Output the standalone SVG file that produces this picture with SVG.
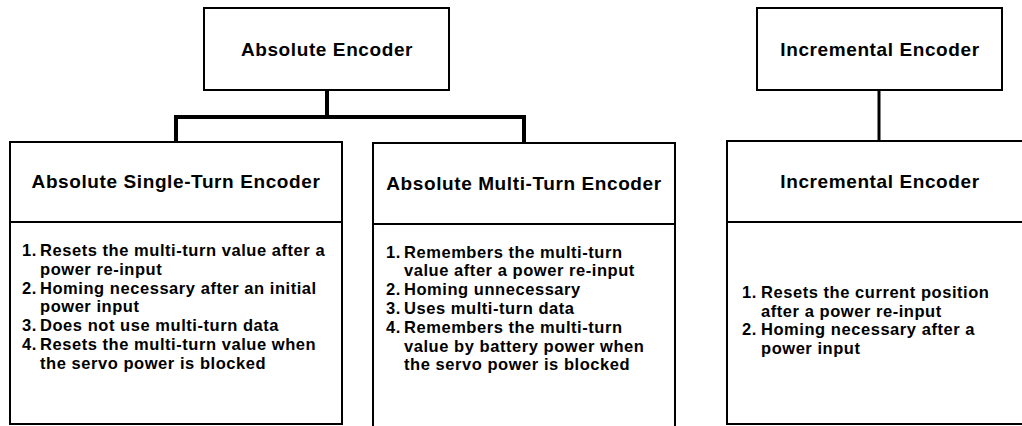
<svg xmlns="http://www.w3.org/2000/svg" width="1022" height="426" viewBox="0 0 1022 426">
<style>
  .box { fill: #ffffff; stroke: #000000; stroke-width: 2; }
  .div { stroke: #000000; stroke-width: 2; fill: none; }
  .title { font-family: "Liberation Sans", Arial, sans-serif; font-weight: bold; font-size: 19px; letter-spacing: 0.6px; text-anchor: middle; fill: #000000; }
  .body { font-family: "Liberation Sans", Arial, sans-serif; font-weight: bold; font-size: 16.5px; letter-spacing: 0.55px; fill: #000000; }
  .conn { stroke: #000000; fill: none; stroke-linecap: square; }
</style>
<rect width="1022" height="426" fill="#ffffff"/>
<g id="connectors">
  <path class="conn" stroke-width="4" d="M327 91 V117 M176 117 H524 M176 117 V141 M524 117 V142"/>
  <path class="conn" stroke-width="3" d="M879 91 V140"/>
</g>
<g id="absolute-encoder">
  <rect class="box" x="204" y="8" width="245" height="82"/>
  <text class="title" x="327" y="56">Absolute Encoder</text>
</g>
<g id="incremental-encoder-top">
  <rect class="box" x="757" y="8" width="245" height="82"/>
  <text class="title" x="880" y="56">Incremental Encoder</text>
</g>
<g id="single-turn">
  <rect class="box" x="10" y="142" width="332" height="282"/>
  <line class="div" x1="10" y1="222" x2="342" y2="222"/>
  <text class="title" x="176" y="188">Absolute Single-Turn Encoder</text>
  <text class="body">
    <tspan x="22" y="256">1.</tspan><tspan x="40" y="256">Resets the multi-turn value after a</tspan>
    <tspan x="40" y="274.8">power re-input</tspan>
    <tspan x="22" y="293.6">2.</tspan><tspan x="40" y="293.6">Homing necessary after an initial</tspan>
    <tspan x="40" y="312.4">power input</tspan>
    <tspan x="22" y="331.2">3.</tspan><tspan x="40" y="331.2">Does not use multi-turn data</tspan>
    <tspan x="22" y="350">4.</tspan><tspan x="40" y="350">Resets the multi-turn value when</tspan>
    <tspan x="40" y="368.8">the servo power is blocked</tspan>
  </text>
</g>
<g id="multi-turn">
  <rect class="box" x="373" y="143" width="302" height="285"/>
  <line class="div" x1="373" y1="224" x2="675" y2="224"/>
  <text class="title" x="524" y="190">Absolute Multi-Turn Encoder</text>
  <text class="body">
    <tspan x="386" y="257.5">1.</tspan><tspan x="404" y="257.5">Remembers the multi-turn</tspan>
    <tspan x="404" y="276.3">value after a power re-input</tspan>
    <tspan x="386" y="295.1">2.</tspan><tspan x="404" y="295.1">Homing unnecessary</tspan>
    <tspan x="386" y="313.9">3.</tspan><tspan x="404" y="313.9">Uses multi-turn data</tspan>
    <tspan x="386" y="332.7">4.</tspan><tspan x="404" y="332.7">Remembers the multi-turn</tspan>
    <tspan x="404" y="351.5">value by battery power when</tspan>
    <tspan x="404" y="370.3">the servo power is blocked</tspan>
  </text>
</g>
<g id="incremental-encoder">
  <rect class="box" x="727" y="141" width="300" height="283"/>
  <line class="div" x1="727" y1="222" x2="1022" y2="222"/>
  <text class="title" x="880" y="188">Incremental Encoder</text>
  <text class="body">
    <tspan x="742" y="297.8">1.</tspan><tspan x="761" y="297.8">Resets the current position</tspan>
    <tspan x="761" y="316.6">after a power re-input</tspan>
    <tspan x="742" y="335.4">2.</tspan><tspan x="761" y="335.4">Homing necessary after a</tspan>
    <tspan x="761" y="354.2">power input</tspan>
  </text>
</g>
</svg>
